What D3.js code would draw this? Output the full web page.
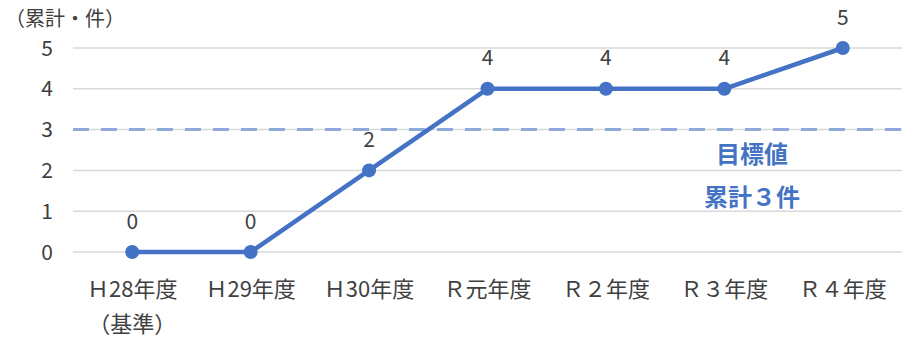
<!DOCTYPE html>
<html><head><meta charset="utf-8">
<script src="https://cdn.jsdelivr.net/npm/d3@7"></script>
<style>
body{margin:0;background:#fff;}
text{font-family:"Noto Sans CJK JP","Noto Sans",sans-serif;}
</style></head>
<body><svg id="c" width="910" height="343"></svg>
<script>
const categories = ["Ｈ28年度","Ｈ29年度","Ｈ30年度","Ｒ元年度","Ｒ２年度","Ｒ３年度","Ｒ４年度"];
const values = [0,0,2,4,4,4,5];
const yTicks = [0,1,2,3,4,5];
const target = 3;
const targetLabel = ["目標値","累計３件"];
const yTitle = "（累計・件）";
const baseNote = "（基準）";

const svg = d3.select("#c");
const L=73, R=902, T=48, B=252;
const x = d3.scaleBand().domain(categories).range([L,R]);
const y = d3.scaleLinear().domain([0,5]).range([B,T]);
const cx = d => x(d)+x.bandwidth()/2;
const txt = "#404040";

svg.append("g").selectAll("line").data(yTicks).join("line")
  .attr("x1",L).attr("x2",R).attr("y1",d=>y(d)).attr("y2",d=>y(d))
  .attr("stroke","#d9d9d9").attr("stroke-width",1.5);

svg.append("g").selectAll("text").data(yTicks).join("text")
  .attr("x",53).attr("y",d=>y(d)).attr("dy","0.36em").attr("text-anchor","end")
  .attr("font-size",21).attr("fill",txt).text(d=>d);

svg.append("text").attr("x",65).attr("y",19).attr("dy","0.36em").attr("text-anchor","middle")
  .attr("font-size",20).attr("fill",txt).text(yTitle);

svg.append("line").attr("x1",L).attr("x2",R).attr("y1",y(target)).attr("y2",y(target))
  .attr("stroke","#8eaadb").attr("stroke-width",3).attr("stroke-dasharray","16,12");

svg.append("g").selectAll("text").data(targetLabel).join("text")
  .attr("x",752).attr("y",(d,i)=>154+i*43).attr("dy","0.36em").attr("text-anchor","middle")
  .attr("font-size",24).attr("font-weight","bold").attr("fill","#4472c4").text(d=>d);

const line = d3.line().x((d,i)=>cx(categories[i])).y(d=>y(d));
svg.append("path").datum(values).attr("d",line).attr("fill","none")
  .attr("stroke","#4472c4").attr("stroke-width",4.5).attr("stroke-linejoin","round");

svg.append("g").selectAll("circle").data(values).join("circle")
  .attr("cx",(d,i)=>cx(categories[i])).attr("cy",d=>y(d)).attr("r",7).attr("fill","#4472c4");

svg.append("g").selectAll("text").data(values).join("text")
  .attr("x",(d,i)=>cx(categories[i])).attr("y",d=>y(d)-31).attr("dy","0.36em").attr("text-anchor","middle")
  .attr("font-size",21).attr("fill",txt).text(d=>d);

svg.append("g").selectAll("text").data(categories).join("text")
  .attr("x",d=>cx(d)).attr("y",289).attr("dy","0.36em").attr("text-anchor","middle")
  .attr("font-size",22).attr("fill",txt).text(d=>d);

svg.append("text").attr("x",cx(categories[0])).attr("y",324).attr("dy","0.36em").attr("text-anchor","middle")
  .attr("font-size",22).attr("fill",txt).text(baseNote);
</script></body></html>
